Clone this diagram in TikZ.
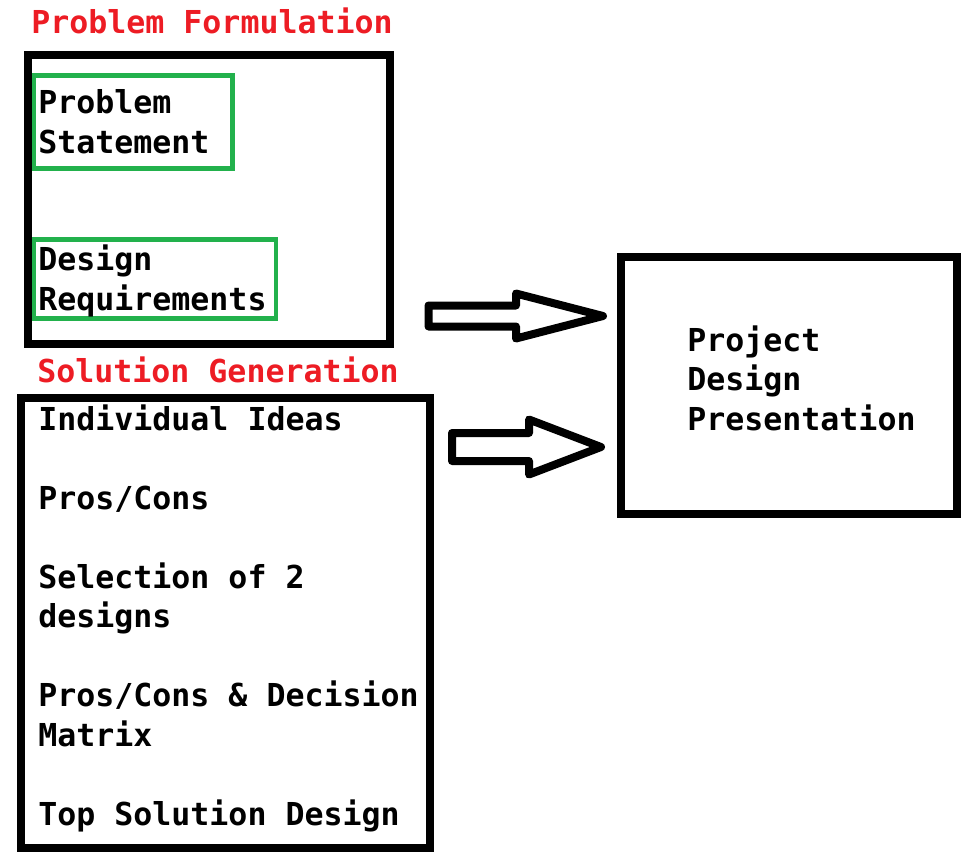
\documentclass[tikz,border=0pt]{standalone}
\usepackage{fontspec}
\setmonofont{DejaVu Sans Mono}
\usepackage{xcolor}
\usepackage{tikz}
\usetikzlibrary{calc}

\definecolor{paintred}{RGB}{237,28,36}
\definecolor{paintgreen}{RGB}{34,177,76}

\tikzset{
  blackbox/.style={line width=6pt},
  greenbox/.style={draw=paintgreen,line width=3.4pt},
  txt/.style={font=\ttfamily\bfseries\fontsize{23.7}{29.6}\selectfont,anchor=base west,inner sep=0pt,align=left},
  heading/.style={txt,text=paintred},
  fatarrow/.style={line width=6pt,line join=round}
}

\begin{document}
\begin{tikzpicture}[x=0.75pt,y=0.75pt,yscale=-1,xscale=1]
\useasboundingbox (0,0) rectangle (965,851);

\draw[blackbox] (28,55) rectangle (390,344);
\draw[greenbox] (34,75.5) rectangle (232.5,168.5);
\draw[greenbox] (34,239.5) rectangle (276,318.5);

\draw[blackbox] (21,398) rectangle (430,848);

\draw[blackbox] (621,257) rectangle (957,514);

\coordinate (tail1) at (428.5,316);
\coordinate (tip1) at (603,316);
\coordinate (tail2) at (452,447);
\coordinate (tip2) at (601,447);

\draw[fatarrow] ($(tail1)+(0,-10.5)$) -- ($(tip1)+(-87,-10.5)$) -- ($(tip1)+(-87,-22.5)$) -- (tip1) -- ($(tip1)+(-87,22.5)$) -- ($(tip1)+(-87,10.5)$) -- ($(tail1)+(0,10.5)$) -- cycle;
\draw[fatarrow] ($(tail2)+(0,-14)$) -- ($(tip2)+(-72,-14)$) -- ($(tip2)+(-72,-27.5)$) -- (tip2) -- ($(tip2)+(-72,27.5)$) -- ($(tip2)+(-72,14)$) -- ($(tail2)+(0,14)$) -- cycle;

% base anchor of a multi-line node sits on its last line
\node[heading] (pfhead) at (31,33) {Problem Formulation};
\node[txt] (pstate) at (38,153) {Problem\\Statement};
\node[txt] (dreq) at (38,310) {Design\\Requirements};

\node[heading] (sghead) at (37,382) {Solution Generation};
\node[txt] (steps) at (38,825) {Individual Ideas\\[29.6pt]Pros/Cons\\[29.6pt]Selection of 2\\designs\\[29.6pt]Pros/Cons \& Decision\\Matrix\\[29.6pt]Top Solution Design};

\node[txt] (pdp) at (687,430) {Project\\Design\\Presentation};
\end{tikzpicture}
\end{document}
